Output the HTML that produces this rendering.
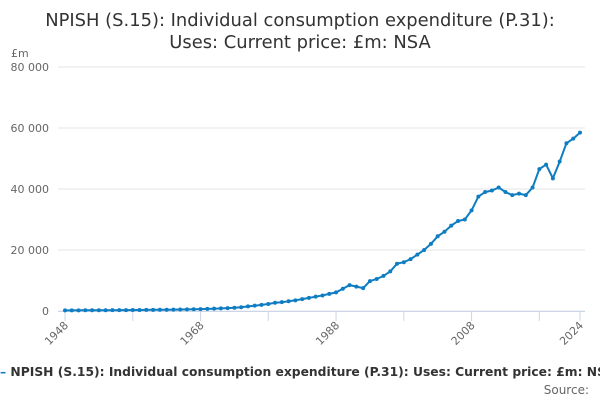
<!DOCTYPE html>
<html><head><meta charset="utf-8"><style>
body{margin:0;width:600px;height:400px;overflow:hidden;background:#fff;font-family:"Liberation Sans","DejaVu Sans",sans-serif;}
</style></head><body>
<svg width="600" height="400" style="font-family:'DejaVu Sans','Liberation Sans',sans-serif">
<text x="300" y="26" text-anchor="middle" font-size="17.9" fill="#333">NPISH (S.15): Individual consumption expenditure (P.31):</text>
<text x="300" y="48" text-anchor="middle" font-size="17.9" fill="#333">Uses: Current price: £m: NSA</text>
<text x="11" y="57" font-size="11" fill="#666">£m</text>
<g id="grid"></g><g id="xaxis"></g><g id="series"></g>
<text x="0" y="376" text-anchor="start" font-size="12.3" font-weight="bold" fill="#333"><tspan fill="#0f7dc2">–</tspan> NPISH (S.15): Individual consumption expenditure (P.31): Uses: Current price: £m: NSA</text>
<text x="589" y="394" text-anchor="end" font-size="12" fill="#666">Source:</text>
</svg>
<script>
const startYear=1948;
const values=[200,210,220,230,240,250,260,270,280,300,320,340,
360,380,400,430,460,500,540,580,630,690,
760,850,950,1080,1250,1500,1750,2000,2300,2700,
2900,3200,3500,3900,4300,4700,5100,5600,6100,7300,
8500,8000,7500,9800,10500,11500,13000,15500,16000,17000,
18500,20000,22000,24500,26000,28000,29500,30000,33000,37500,
39000,39500,40500,39000,38000,38500,38000,40500,46500,48000,
43500,49000,55000,56500,58500];
const yTicks=[0,20000,40000,60000,80000];
const xTicks=[1948,1968,1988,2008,2024];
const NS="http://www.w3.org/2000/svg";
const x=y=>65+(y-1948)*(580-65)/(2024-1948);
const yv=v=>311-v*(311-67)/80000;
const grid=document.getElementById('grid'),xa=document.getElementById('xaxis'),se=document.getElementById('series');
function mk(t,a,p){const e=document.createElementNS(NS,t);for(const k in a)e.setAttribute(k,a[k]);p.appendChild(e);return e;}
yTicks.forEach(v=>{
 const l=mk('line',{x1:58,x2:585,y1:yv(v),y2:yv(v),stroke:'#e6e6e6'},grid);
 
 
 const t=mk('text',{x:49,y:yv(v)+4,'text-anchor':'end','font-size':11,fill:'#666'},grid);
 t.textContent=v===0?'0':(v/1000)+' 000';
 
 
});
const ax=mk('line',{x1:58,x2:585,y1:311.5,y2:311.5,stroke:'#ccd6eb'},xa);


[1948,1958,1968,1978,1988,1998,2008,2018,2024].forEach(yr=>{
 const tk=mk('line',{x1:x(yr),x2:x(yr),y1:311,y2:321,stroke:'#ccd6eb'},xa);
 
 
});
xTicks.forEach(yr=>{
 const t=mk('text',{x:x(yr)+4,y:326,'text-anchor':'end','font-size':11,fill:'#666',transform:`rotate(-45 ${x(yr)+4} 326)`},xa);
 t.textContent=yr;
 
 
});
const pts=values.map((v,i)=>x(startYear+i).toFixed(1)+','+yv(v).toFixed(1)).join(' ');
const pl=mk('polyline',{points:pts,fill:'none',stroke:'#0f7dc2','stroke-width':2},se);


values.forEach((v,i)=>{
 const c=mk('circle',{cx:x(startYear+i),cy:yv(v),r:2,fill:'#0f7dc2'},se);
 
 
});
</script>
</body></html>
